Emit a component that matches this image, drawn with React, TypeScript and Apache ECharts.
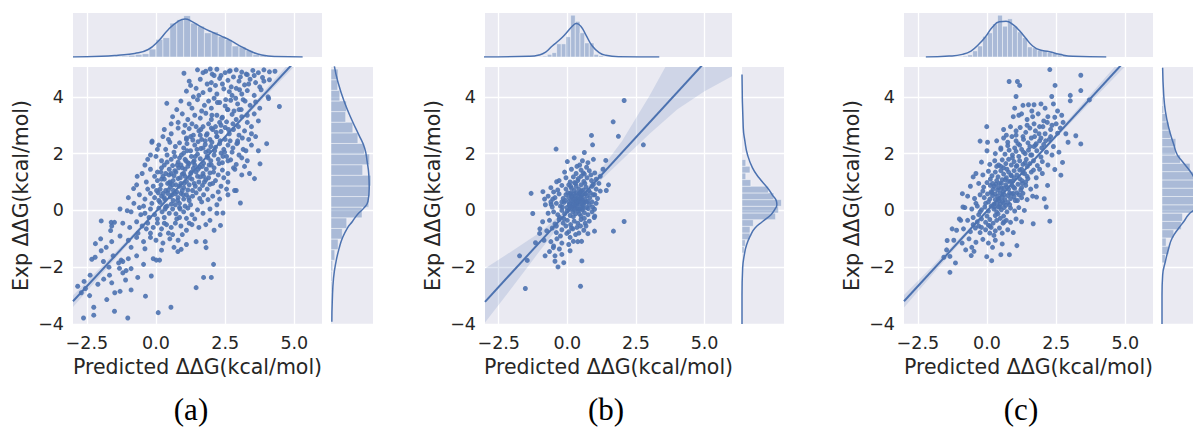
import React, { useEffect, useRef } from "react";
import * as echarts from "echarts";

// ---- shared axis settings ----
const X_TICKS = [-2.5, 0, 2.5, 5];
const Y_TICKS = [-4, -2, 0, 2, 4];
const X_MIN = -3;
const X_MAX = 6;
const Y_MIN = -4;
const Y_MAX = 5.05;
const X_TITLE = "Predicted \u0394\u0394G(kcal/mol)";
const Y_TITLE = "Exp \u0394\u0394G(kcal/mol)";
const PANEL_TAGS = ["(a)", "(b)", "(c)"];

// ---- panel (a) ----
const pointsA: number[][] = [
  [-2.62,-3.79],[-2.25,-3.41],[-2.25,-3.69],[-2.83,-2.67],[-2.55,-2.75],[-2.38,-2.28],[-2.32,-1.72],[-2.19,-1.17],[-1.98,-1.42],[-1.98,-0.37],
  [-1.62,-0.42],[-1.5,-0.42],[-1.64,-0.71],[-1.89,-2.42],[-1.68,-2.28],[-1.49,-2.9],[-1.78,-3.14],[-1.5,-3.55],[-1.02,-3.79],[-0.38,-3.02],
  [0.08,-3.6],[0.54,-3.41],[1.45,-2.72],[1.72,-2.36],[2.0,-2.36],[2.08,-1.9],[-0.66,-2.36],[-0.17,-2.31],[-1.32,-2.04],[-1.26,-1.75],
  [-1.2,-1.8],[-1.08,-2.12],[-0.68,1.2],[-0.81,0.77],[-1.04,-0.01],[-0.14,2.44],[0.39,3.77],[1.01,4.83],[1.96,4.98],[2.03,4.8],
  [2.68,4.92],[3.26,4.8],[4.1,4.88],[4.46,3.66],[4.07,3.94],[4.0,2.35],[3.76,1.64],[3.56,1.12],[3.38,1.3],[3.05,0.26],
  [2.9,0.7],[2.84,0.7],[2.33,-0.53],[2.42,-0.09],[1.81,-1.31],[1.78,-1.1],[1.45,-1.1],[0.91,-1.37],[0.79,-1.45],[0.13,-1.75],[0.01,-1.75],
  [1.5,4.95],[1.8,4.9],[2.2,4.97],[2.5,4.85],[2.9,4.95],[3.1,4.87],[3.5,4.93],[3.7,4.85],[3.9,4.95],[4.3,4.9],[2.35,4.75],[3.3,4.78],
  [1.2,4.55],[1.6,4.62],[2.0,4.5],[2.3,4.65],[2.6,4.58],[2.8,4.7],[3.0,4.55],[3.4,4.62],[3.6,4.5],[3.85,4.68],[4.1,4.6],[2.15,4.4],[3.2,4.42],
  [1.1,4.2],[1.45,4.3],[1.7,4.15],[1.95,4.25],[2.2,4.1],[2.45,4.28],[2.65,4.18],[2.9,4.3],[3.1,4.1],[3.3,4.22],[3.55,4.05],[3.8,4.25],[2.75,4.05],[1.35,4.0],[4.05,4.0],
  [0.9,3.85],[1.2,3.75],[1.5,3.9],[1.75,3.7],[1.9,3.85],[2.1,3.95],[2.3,3.8],[2.5,3.68],[2.7,3.88],[2.95,3.75],[3.15,3.9],[3.4,3.7],[3.6,3.82],[2.6,3.55],[1.65,3.5],[2.0,3.6],[3.0,3.55],[3.75,3.6],
  [0.6,3.3],[0.95,3.4],[1.15,3.2],[1.4,3.35],[1.6,3.25],[1.8,3.42],[2.0,3.2],[2.2,3.35],[2.4,3.28],[2.55,3.12],[2.75,3.38],[2.9,3.2],[3.1,3.3],[3.3,3.1],[3.55,3.4],[1.3,3.05],[1.9,3.05],[2.35,3.0],[0.8,3.1],[3.7,3.15],
  [0.3,2.85],[0.55,2.7],[0.8,2.9],[1.0,2.75],[1.2,2.88],[1.35,2.65],[1.55,2.8],[1.7,2.95],[1.85,2.7],[2.05,2.85],[2.2,2.6],[2.35,2.78],[2.5,2.92],[2.65,2.7],[2.8,2.85],[3.0,2.65],[3.2,2.8],[3.45,2.7],[1.1,2.55],[1.65,2.5],[2.15,2.95],[2.95,2.45],[0.45,2.5],[3.35,2.5],
  [-0.15,2.4],[0.1,2.3],[0.35,2.15],[0.5,2.4],[0.7,2.25],[0.85,2.38],[1.0,2.2],[1.12,2.35],[1.25,2.1],[1.4,2.3],[1.52,2.42],[1.62,2.18],[1.78,2.32],[1.9,2.1],[2.02,2.4],[2.15,2.22],[2.3,2.35],[2.45,2.15],[2.6,2.3],[2.78,2.2],[2.95,2.38],[3.15,2.15],[3.45,2.3],[3.7,2.1],[1.33,2.48],[1.95,2.5],[2.5,2.5],
  [-0.3,1.8],[0.0,1.9],[0.2,1.75],[0.4,1.95],[0.55,1.8],[0.68,1.9],[0.8,1.7],[0.92,1.95],[1.05,1.8],[1.15,1.68],[1.28,1.9],[1.38,1.75],[1.5,1.98],[1.6,1.82],[1.72,1.66],[1.85,1.9],[1.98,1.75],[2.1,1.95],[2.25,1.8],[2.4,1.68],[2.55,1.9],[2.7,1.78],[2.9,1.62],[3.1,1.85],[3.3,1.75],[1.0,2.02],[1.8,2.05],[2.35,2.02],[0.3,1.6],
  [-0.5,1.3],[-0.2,1.45],[0.05,1.35],[0.2,1.5],[0.35,1.3],[0.48,1.45],[0.6,1.58],[0.72,1.35],[0.82,1.5],[0.95,1.28],[1.05,1.45],[1.15,1.55],[1.25,1.3],[1.35,1.48],[1.45,1.35],[1.58,1.52],[1.7,1.3],[1.82,1.45],[1.95,1.32],[2.1,1.5],[2.25,1.25],[2.4,1.42],[2.6,1.3],[2.85,1.45],[3.1,1.25],[0.9,1.6],[1.4,1.6],[2.0,1.6],[-0.05,1.2],
  [-0.7,0.9],[-0.35,1.0],[-0.1,0.85],[0.05,1.05],[0.18,0.9],[0.3,1.1],[0.42,0.95],[0.52,0.82],[0.62,1.05],[0.72,0.9],[0.8,1.12],[0.9,0.95],[1.0,0.8],[1.1,1.02],[1.2,0.9],[1.3,1.1],[1.42,0.85],[1.55,1.0],[1.68,0.88],[1.8,1.08],[1.95,0.92],[2.15,1.05],[2.35,0.85],[2.6,1.0],[0.25,1.2],[0.65,1.22],[1.05,1.2],[1.6,1.18],[0.45,0.72],[0.95,0.7],
  [-1.0,0.45],[-0.6,0.55],[-0.4,0.4],[-0.2,0.6],[-0.05,0.45],[0.08,0.62],[0.2,0.5],[0.32,0.38],[0.42,0.6],[0.52,0.48],[0.62,0.35],[0.7,0.58],[0.8,0.45],[0.9,0.6],[1.0,0.4],[1.1,0.55],[1.2,0.35],[1.32,0.5],[1.45,0.62],[1.58,0.42],[1.72,0.55],[1.88,0.38],[2.05,0.5],[2.3,0.4],[2.6,0.55],[0.15,0.28],[0.55,0.22],[0.85,0.25],[1.25,0.2],[-0.15,0.25],
  [-1.3,0.05],[-0.9,-0.05],[-0.6,0.1],[-0.4,-0.1],[-0.2,0.05],[-0.05,-0.15],[0.1,0.08],[0.22,-0.05],[0.35,0.12],[0.48,-0.1],[0.6,0.05],[0.72,-0.12],[0.85,0.1],[1.0,-0.05],[1.15,0.08],[1.3,-0.15],[1.5,0.02],[1.7,-0.1],[1.95,0.05],[2.2,-0.1],[0.3,-0.25],[0.75,-0.3],[1.1,-0.28],[0.05,-0.3],
  [-1.6,-0.55],[-1.2,-0.45],[-0.95,-0.6],[-0.7,-0.4],[-0.5,-0.55],[-0.3,-0.45],[-0.1,-0.6],[0.05,-0.45],[0.2,-0.65],[0.38,-0.5],[0.55,-0.6],[0.7,-0.45],[0.9,-0.55],[1.1,-0.7],[1.3,-0.5],[1.55,-0.6],[1.8,-0.5],[2.1,-0.7],[0.45,-0.8],[0.95,-0.85],[-0.2,-0.8],
  [-2.0,-1.0],[-1.6,-1.1],[-1.3,-0.9],[-1.0,-1.05],[-0.7,-0.95],[-0.45,-1.1],[-0.2,-0.95],[0.0,-1.05],[0.25,-1.15],[0.5,-1.0],[0.8,-1.05],[1.1,-1.2],[-0.9,-1.3],[-0.4,-1.35],[0.2,-1.4],[0.65,-1.3],[-1.8,-1.3],
  [-2.2,-1.65],[-1.9,-1.8],[-1.55,-1.6],[-1.35,-1.85],[-1.0,-1.7],[-0.7,-1.6],[-0.45,-1.9],[-0.1,-1.7],[-1.7,-2.0],[-0.9,-2.05],[-1.2,-2.2],
  [-2.6,-2.5],[-2.1,-2.6],[-1.6,-2.55],[-1.1,-2.45],[-0.9,-2.8],[-2.7,-2.9],[-2.4,-3.0],[-1.3,-2.85],
  [0.35,0.7],[0.55,1.3],[0.75,0.65],[0.95,1.5],[1.15,0.72],[1.35,1.7],[1.5,1.2],[0.6,0.9],[0.85,1.85],[1.7,2.2],[1.25,2.6],[0.4,1.7],[0.15,0.75],[0.7,0.2],[1.05,0.15],
  [1.9,1.15],[2.2,2.6],[1.45,2.95],[0.5,1.0],[1.0,1.3],[1.2,1.65],[0.3,0.45],[0.85,0.85],[1.6,2.65],[2.0,2.9],[0.2,1.1],[1.1,2.5],[1.75,1.0],[0.65,2.05],[2.3,3.1],
  [0.1,0.35],[0.25,0.6],[0.4,0.15],[0.5,0.95],[0.58,0.55],[0.68,1.4],[0.78,0.35],[0.88,1.15],[0.98,0.55],[1.08,1.75],[1.18,0.45],[1.28,1.35],[1.38,0.95],[1.48,2.15],[1.58,0.75],
  [1.68,1.55],[1.78,2.45],[1.88,1.85],[1.98,2.25],[2.08,1.35],[2.18,2.75],[2.28,1.65],[2.38,3.25],[2.48,2.05],[2.58,3.55],[2.68,2.45],[2.78,3.05],[2.88,3.95],[2.98,2.95],[3.08,3.55],
  [0.02,0.7],[0.18,1.35],[0.33,0.05],[0.47,1.25],[0.63,0.7],[0.77,1.6],[0.87,0.05],[1.02,0.95],[1.12,2.1],[1.22,1.15],[1.32,0.7],[1.42,1.9],[1.52,1.45],[1.62,2.85],[1.72,1.2],
  [1.82,2.65],[1.92,1.6],[2.02,3.35],[2.12,2.1],[2.22,3.8],[2.32,2.45],[2.42,1.9],[2.52,3.9],[2.62,2.85],[2.72,4.35],[2.82,3.5],[2.92,2.35],[3.02,4.25],[3.12,2.55],[3.22,3.85],
  [-0.45,0.15],[-0.3,0.75],[-0.25,-0.25],[-0.55,-0.15],[-0.8,0.25],[-0.65,-0.8],[-0.35,-0.65],[0.15,-0.85],[0.3,-0.45],[0.6,-0.85],[0.85,-0.25],[1.2,-0.45],[1.4,-0.3],[1.65,0.3],[1.85,0.75],
  [2.05,0.95],[2.25,0.65],[2.45,1.15],[2.6,1.75],[2.75,2.05],[1.05,3.0],[1.3,3.6],[1.55,4.05],[1.85,4.45],[2.1,4.75],[2.4,4.45],[2.65,4.9],[3.05,4.7],[3.35,4.45],[3.55,4.75],
  [3.75,4.35],[3.9,4.55],[1.7,4.85],[1.25,4.4],[0.75,3.55],[0.55,3.05],[0.25,2.6],[0.05,2.15],[-0.2,1.95],[-0.4,1.6],[3.3,3.35],[3.45,2.95],[3.6,2.6],[3.25,2.1],[3.0,1.95],
  [2.8,1.5],[3.2,1.55],[2.55,0.75],[2.2,0.2],[1.95,-0.35],
];
const regLineA = [[-3, -3.2], [6, 6.28]];
const bandXA = [-3, -2, -1, 0, 1, 2, 3, 4, 5, 6];
const bandLowA = [-3.4, -2.29, -1.18, -0.09, 0.97, 2.02, 3.04, 4.06, 5.07, 6.08];
const bandHighA = [-3.0, -2.01, -1.0, 0.01, 1.05, 2.12, 3.2, 4.3, 5.39, 6.48];
const topHistStartA = -2.0;
const topHistWidthA = 0.25;
const topHistA = [0.01,0.01,0.015,0.02,0.04,0.06,0.075,0.18,0.4,0.44,0.77,0.85,0.94,0.77,0.7,0.55,0.57,0.47,0.4,0.25,0.23,0.15,0.06,0.03,0.015,0.01];
const rightHistStartA = -4.0;
const rightHistWidthA = 0.374;
const rightHistA = [0.01,0.01,0.015,0.02,0.025,0.04,0.09,0.17,0.27,0.375,0.74,0.9,0.92,0.95,0.755,0.92,0.8,0.64,0.52,0.35,0.37,0.21,0.16,0.17];
const kdeTopA = [[-3.0,0.002],[-1.97,0.015],[-1.37,0.04],[-0.77,0.08],[-0.28,0.17],[0.08,0.36],[0.44,0.62],[0.8,0.81],[1.05,0.865],[1.29,0.81],[1.65,0.68],[2.01,0.57],[2.38,0.47],[2.74,0.36],[3.1,0.23],[3.46,0.12],[3.82,0.045],[4.31,0.01],[5.3,0.0]];
const kdeRightA = [[0.08,5.08],[0.16,4.55],[0.31,3.85],[0.51,3.14],[0.66,2.67],[0.8,2.2],[0.86,1.73],[0.9,1.26],[0.91,0.79],[0.88,0.32],[0.78,0.08],[0.625,-0.15],[0.51,-0.39],[0.39,-0.62],[0.27,-0.98],[0.195,-1.33],[0.12,-1.8],[0.06,-2.39],[0.03,-3.21],[0.02,-3.92]];

// ---- panel (b) ----
const pointsB: number[][] = [
  [2.07,3.87],[1.67,3.12],[1.86,2.61],[2.77,2.31],[0.88,2.64],[0.92,2.31],[-0.41,2.16],[0.62,2.04],[1.4,1.76],[-1.32,0.6],
  [-0.89,0.66],[-0.83,0.4],[-1.26,-0.11],[-0.53,0.4],[-0.59,0.21],[1.5,0.9],[1.42,0.7],[2.07,-0.39],[1.68,-0.73],[0.99,-0.73],
  [-1.74,-1.6],[-1.46,-1.76],[-1.53,-2.75],[-0.81,-1.6],[-0.45,-1.79],[-0.34,-1.99],[-0.13,-1.84],[0.53,-1.78],[0.48,-2.67],[-1.16,-1.14],
  [-1.01,-0.81],[-0.51,-1.31],[-0.29,-1.36],[0.22,-1.09],[0.52,-1.09],[-0.02,-0.81],[0.98,-0.25],[0.99,0.04],[-0.39,1.01],
  [0.0,1.72],[0.25,1.85],[0.45,1.6],[0.55,1.75],[0.75,1.68],[0.95,1.8],[0.35,1.55],
  [-0.1,1.35],[0.15,1.45],[0.32,1.3],[0.5,1.42],[0.62,1.28],[0.8,1.4],[1.0,1.32],[1.3,1.45],[0.7,1.52],
  [-0.3,1.05],[-0.05,1.15],[0.1,1.0],[0.22,1.18],[0.38,1.05],[0.5,1.2],[0.6,1.02],[0.72,1.15],[0.88,1.05],[1.05,1.1],[0.3,0.95],[0.95,0.92],
  [-0.6,0.8],[-0.35,0.72],[-0.2,0.88],[-0.05,0.75],[0.05,0.9],[0.15,0.78],[0.25,0.7],[0.32,0.85],[0.42,0.75],[0.5,0.9],[0.58,0.72],[0.68,0.82],[0.78,0.7],[0.9,0.85],[1.05,0.75],[1.2,0.68],[0.45,0.62],[0.12,0.62],
  [-0.7,0.5],[-0.45,0.45],[-0.3,0.58],[-0.15,0.42],[-0.05,0.55],[0.05,0.45],[0.12,0.58],[0.2,0.4],[0.28,0.52],[0.35,0.42],[0.42,0.58],[0.5,0.45],[0.56,0.55],[0.64,0.4],[0.72,0.52],[0.82,0.45],[0.95,0.55],[1.1,0.42],[0.3,0.33],[0.6,0.3],[-0.2,0.3],
  [-0.8,0.2],[-0.55,0.12],[-0.4,0.25],[-0.25,0.15],[-0.12,0.28],[-0.02,0.1],[0.08,0.22],[0.16,0.12],[0.22,0.28],[0.3,0.18],[0.38,0.05],[0.45,0.22],[0.52,0.12],[0.6,0.25],[0.7,0.1],[0.8,0.2],[0.92,0.12],[1.05,0.25],[0.15,0.35],[0.48,0.35],[0.75,0.32],
  [-0.7,-0.1],[-0.5,-0.05],[-0.35,-0.15],[-0.2,0.0],[-0.1,-0.12],[0.0,-0.02],[0.1,-0.18],[0.2,-0.05],[0.3,-0.12],[0.4,-0.02],[0.5,-0.2],[0.62,-0.08],[0.75,-0.15],[0.9,-0.05],[1.0,-0.2],[0.25,0.02],[0.55,0.02],
  [-0.9,-0.4],[-0.65,-0.35],[-0.45,-0.48],[-0.3,-0.32],[-0.15,-0.45],[0.0,-0.35],[0.12,-0.5],[0.25,-0.38],[0.38,-0.45],[0.5,-0.32],[0.65,-0.45],[0.8,-0.38],[-0.05,-0.55],[0.35,-0.6],
  [-1.0,-0.65],[-0.75,-0.72],[-0.55,-0.62],[-0.4,-0.78],[-0.2,-0.68],[0.05,-0.75],[0.2,-0.65],[0.42,-0.8],[0.6,-0.7],[0.75,-0.82],[-0.25,-0.9],[0.1,-0.95],
  [-0.85,-1.05],[-0.6,-1.1],[-0.38,-1.0],[-0.2,-1.15],[0.05,-1.2],[0.38,-1.1],[-0.5,-1.25],
  [-0.65,-1.45],[-0.2,-1.55],[0.1,-1.42],[-0.45,-1.6],
  [0.05,0.3],[0.18,0.5],[0.28,0.08],[0.33,0.62],[0.4,0.3],[0.46,0.05],[0.52,0.68],[0.58,0.18],[0.66,0.58],[0.7,0.3],[0.1,0.05],[0.22,-0.22],[0.36,0.25],[0.44,-0.12],[0.54,0.38],
  [0.62,-0.28],[0.76,0.06],[0.84,0.62],[0.02,0.62],[-0.08,0.35],[-0.18,0.12],[-0.28,-0.25],[-0.12,-0.3],[0.12,0.85],[0.26,0.98],[0.4,1.12],[0.64,0.95],[0.86,1.25],[1.15,0.95],[1.2,1.2],
  [0.15,-0.62],[0.48,-0.55],[-0.4,-0.55],[-0.6,0.3],[-0.5,0.65],[0.3,-0.85],[0.68,-0.55],[0.9,0.3],[1.0,0.55],[0.58,1.32],
  [0.2,0.2],[0.3,0.4],[0.42,0.48],[0.5,0.28],[0.15,0.48],[0.25,0.58],[0.35,0.15],[0.47,0.62],[0.57,0.08],[0.07,0.18],
];
const regLineB = [[-3, -3.22], [6, 6.26]];
const bandXB = [-3, -2, -1, 0, 0.3, 1, 2, 3, 4, 5, 6];
const bandLowB = [-3.95, -2.7, -1.42, -0.18, 0.16, 0.86, 1.78, 2.7, 3.55, 4.2, 4.72];
const bandHighB = [-2.05, -1.42, -0.78, 0.07, 0.37, 1.15, 2.45, 4.05, 5.8, 7.5, 9.2];
const topHistStartB = -0.9;
const topHistWidthB = 0.17;
const topHistB = [0.02,0.06,0.1,0.3,0.3,0.46,0.95,0.81,0.55,0.32,0.32,0.06,0.03];
const rightHistStartB = -1.5;
const rightHistWidthB = 0.235;
const rightHistB = [0.05,0.08,0.19,0.19,0.27,0.8,0.87,0.94,0.76,0.63,0.21,0.09,0.19,0.09];
const kdeTopB = [[-3.04,0.0],[-1.4,0.015],[-1.03,0.045],[-0.79,0.11],[-0.55,0.25],[-0.3,0.38],[-0.06,0.53],[0.18,0.7],[0.33,0.76],[0.49,0.7],[0.67,0.51],[0.91,0.25],[1.16,0.1],[1.4,0.04],[1.88,0.008],[3.35,0.0]];
const kdeRightB = [[0.0,4.79],[0.03,2.91],[0.07,2.43],[0.13,1.97],[0.25,1.5],[0.41,1.14],[0.61,0.79],[0.72,0.55],[0.82,0.32],[0.83,0.2],[0.8,0.08],[0.69,-0.15],[0.49,-0.39],[0.31,-0.62],[0.21,-0.86],[0.11,-1.21],[0.055,-1.57],[0.015,-2.04],[0.0,-2.98],[0.0,-4.0]];

// ---- panel (c) ----
const pointsC: number[][] = [
  [2.27,4.96],[3.39,4.76],[0.8,4.54],[1.1,4.54],[1.18,4.4],[2.46,4.4],[1.05,4.01],[2.34,4.01],[3.01,4.05],[3.39,4.22],
  [3.01,3.86],[3.7,3.89],[-0.01,2.95],[-0.25,2.44],[0.02,2.4],[3.39,2.34],[3.21,2.63],[2.93,2.4],[2.73,1.69],[2.67,1.24],
  [2.45,1.44],[2.27,-0.38],[1.67,-0.47],[-0.5,1.18],[-0.89,0.59],[-0.87,0.12],[-0.95,-0.35],[-1.26,-0.65],[-1.44,-1.06],[-1.46,-1.39],
  [-1.34,-1.62],[-1.56,-1.65],[-1.14,-1.85],[-1.34,-2.18],[-0.77,-1.39],[-0.57,-1.59],[-0.47,-1.44],[-0.01,-1.63],[0.17,-1.77],[0.5,-1.56],
  [0.81,-1.56],[1.08,-1.24],[1.79,0.47],[2.14,0.12],[2.07,0.41],[2.19,0.88],
  [1.0,3.6],[1.3,3.7],[1.5,3.72],[1.7,3.72],[1.95,3.75],[2.1,3.6],[2.4,3.75],[2.55,3.5],[1.15,3.35],
  [0.95,3.3],[1.25,3.4],[1.45,3.2],[1.65,3.3],[1.85,3.4],[2.05,3.15],[2.2,3.3],[2.45,3.28],[2.7,3.35],[1.7,3.05],[2.35,3.0],
  [0.6,2.85],[0.85,2.95],[1.05,2.8],[1.2,2.92],[1.4,2.75],[1.55,2.9],[1.75,2.8],[1.9,2.95],[2.1,2.7],[2.3,2.85],[2.55,2.72],[2.65,2.9],[1.3,2.6],[1.95,2.55],
  [0.35,2.45],[0.6,2.55],[0.75,2.4],[0.9,2.6],[1.05,2.45],[1.18,2.3],[1.32,2.5],[1.48,2.38],[1.6,2.55],[1.75,2.3],[1.9,2.45],[2.05,2.32],[2.25,2.5],[2.4,2.25],[0.5,2.2],[1.0,2.2],
  [0.0,2.1],[0.3,2.0],[0.5,2.15],[0.65,1.98],[0.8,2.12],[0.92,1.95],[1.05,2.08],[1.15,1.9],[1.25,2.15],[1.38,2.0],[1.5,2.12],[1.62,1.95],[1.8,2.1],[1.95,1.88],[2.15,2.05],[2.35,1.95],[1.7,2.25],[0.75,2.28],[2.6,2.05],
  [-0.2,1.7],[0.1,1.62],[0.28,1.75],[0.42,1.6],[0.55,1.78],[0.68,1.65],[0.78,1.8],[0.88,1.6],[0.98,1.72],[1.08,1.58],[1.18,1.75],[1.3,1.62],[1.42,1.8],[1.55,1.65],[1.68,1.75],[1.82,1.58],[2.0,1.72],[2.2,1.6],[0.6,1.5],[1.25,1.45],[1.9,1.45],
  [-0.4,1.3],[-0.15,1.25],[0.05,1.38],[0.18,1.22],[0.3,1.35],[0.4,1.18],[0.5,1.4],[0.6,1.28],[0.7,1.15],[0.78,1.35],[0.88,1.22],[0.98,1.4],[1.08,1.25],[1.18,1.12],[1.3,1.32],[1.45,1.2],[1.6,1.35],[1.78,1.15],[2.0,1.3],[0.35,1.05],[0.85,1.02],[1.4,1.0],
  [-0.6,0.85],[-0.3,0.95],[-0.12,0.82],[0.0,0.98],[0.12,0.88],[0.22,0.75],[0.32,0.92],[0.42,0.8],[0.52,0.95],[0.6,0.78],[0.68,0.9],[0.78,0.75],[0.9,0.88],[1.0,0.78],[1.12,0.92],[1.25,0.8],[1.4,0.88],[1.58,0.75],[1.78,0.85],[0.15,0.65],[0.48,0.62],[0.95,0.6],[1.3,0.6],
  [-0.7,0.5],[-0.45,0.42],[-0.25,0.55],[-0.1,0.45],[0.02,0.58],[0.1,0.4],[0.2,0.52],[0.3,0.38],[0.38,0.5],[0.45,0.35],[0.55,0.48],[0.65,0.38],[0.75,0.52],[0.85,0.42],[0.98,0.48],[1.1,0.35],[1.25,0.45],[1.45,0.38],[1.65,0.5],[0.6,0.25],[0.25,0.22],[-0.05,0.25],
  [-0.8,0.1],[-0.55,0.05],[-0.35,0.15],[-0.2,0.02],[-0.08,0.12],[0.05,-0.02],[0.15,0.15],[0.25,0.05],[0.35,-0.05],[0.42,0.12],[0.52,0.02],[0.62,0.1],[0.72,-0.05],[0.85,0.08],[1.0,-0.02],[1.15,0.1],[1.35,0.0],[0.3,-0.18],[0.6,-0.2],[0.0,-0.2],[-0.3,-0.15],
  [-1.0,-0.3],[-0.7,-0.35],[-0.5,-0.25],[-0.35,-0.4],[-0.2,-0.3],[-0.05,-0.42],[0.1,-0.32],[0.22,-0.45],[0.35,-0.35],[0.48,-0.28],[0.58,-0.45],[0.7,-0.35],[0.85,-0.42],[1.05,-0.3],[1.25,-0.4],[0.15,-0.6],[0.45,-0.62],
  [-1.1,-0.7],[-0.85,-0.65],[-0.6,-0.75],[-0.42,-0.62],[-0.25,-0.78],[-0.05,-0.68],[0.1,-0.8],[0.3,-0.72],[0.55,-0.8],[0.75,-0.68],[0.95,-0.78],[-0.3,-0.55],[0.05,-0.52],
  [-1.2,-1.05],[-0.9,-1.15],[-0.65,-1.0],[-0.4,-1.12],[-0.15,-1.02],[0.05,-1.15],[0.3,-1.05],[0.55,-1.18],[-0.55,-1.3],[0.2,-1.3],
  [0.05,0.3],[0.18,0.62],[0.28,0.12],[0.38,0.72],[0.48,0.22],[0.58,0.65],[0.68,0.18],[0.78,1.02],[0.88,0.58],[0.98,1.15],[1.08,0.62],[1.18,1.42],[1.28,0.95],[1.38,1.68],[1.48,1.12],
  [1.58,1.95],[1.68,1.42],[1.78,2.35],[0.1,-0.55],[0.2,0.95],[0.4,-0.12],[0.5,1.55],[0.62,-0.4],[0.72,1.45],[0.82,0.2],[0.92,1.85],[1.02,0.35],[1.12,2.35],[1.22,0.72],[1.32,2.05],
  [-0.15,0.68],[-0.25,-0.05],[-0.4,0.25],[-0.5,-0.5],[-0.2,-0.6],[0.25,-0.88],[0.45,0.95],[0.55,1.08],[0.35,1.55],[0.12,1.1],
  [0.3,0.58],[0.42,0.4],[0.52,0.78],[0.62,0.55],[0.72,0.82],[0.82,0.62],[0.92,1.02],[0.26,0.85],[0.36,0.25],[0.46,0.12],[0.56,0.32],[0.66,1.08],[0.76,0.28],[0.86,1.25],[0.96,0.82],
  [1.06,1.55],[1.16,0.55],[1.26,1.05],[1.36,1.3],[1.46,1.55],[1.55,2.25],[1.72,2.6],[1.88,2.7],[2.02,2.95],[2.18,3.1],[2.3,2.6],[2.12,2.45],[1.98,2.2],[1.62,3.5],[1.45,3.0],
  [2.5,3.05],[2.85,2.7],[2.75,3.1],[1.05,2.65],[0.7,2.65],
];
const regLineC = [[-3, -3.2], [6, 6.34]];
const bandXC = [-3, -2, -1, 0, 1, 2, 3, 4, 5, 6];
const bandLowC = [-3.42, -2.29, -1.17, -0.07, 1.0, 2.04, 3.06, 4.07, 5.08, 6.09];
const bandHighC = [-2.98, -1.99, -0.99, 0.03, 1.08, 2.16, 3.26, 4.37, 5.48, 6.59];
const topHistStartC = -1.24;
const topHistWidthC = 0.18;
const topHistC = [0.01,0.01,0.02,0.05,0.14,0.25,0.47,0.55,0.75,0.95,0.7,0.87,0.7,0.57,0.44,0.23,0.21,0.15,0.14,0.1,0.08,0.05,0.03,0.02];
const rightHistStartC = -1.846;
const rightHistWidthC = 0.292;
const rightHistC = [0.08,0.16,0.1,0.28,0.46,0.49,0.85,0.95,1.0,0.95,0.85,0.67,0.44,0.32,0.33,0.2,0.16,0.1,0.04,0.02];
const kdeTopC = [[-2.21,0.0],[-1.37,0.02],[-0.89,0.06],[-0.58,0.135],[-0.28,0.3],[-0.04,0.47],[0.2,0.68],[0.45,0.8],[0.69,0.81],[0.93,0.74],[1.17,0.6],[1.41,0.42],[1.65,0.25],[1.89,0.165],[2.26,0.12],[2.62,0.06],[3.1,0.015],[4.31,0.0]];
const kdeRightC = [[0.015,5.02],[0.04,4.08],[0.08,3.5],[0.16,2.91],[0.28,2.32],[0.36,1.97],[0.48,1.73],[0.67,1.38],[0.78,1.1],[0.86,0.75],[0.88,0.45],[0.8,0.1],[0.63,-0.15],[0.52,-0.39],[0.4,-0.62],[0.24,-0.98],[0.16,-1.33],[0.08,-1.8],[0.016,-2.27],[0.0,-2.98],[0.0,-4.0]];

// ---- styling ----
const FONT = "DejaVu Sans";
const INK = "#262626";
const BLUE = "#4C72B0";
const PANEL_BG = "#EAEAF2";
const HIST_FILL = "rgba(76,114,176,0.4)";
const HIST_EDGE = "rgba(255,255,255,0.55)";
const GRID_LINE = { show: true, lineStyle: { color: "#ffffff", width: 1.3 } };

// grid boxes in px: [left, top, width, height]
const PANELS = [
  {
    main: [73, 67, 249, 257], top: [73, 13, 249, 44], right: [331, 67, 42, 257], tag: [191, 409],
    points: pointsA, reg: regLineA, bandX: bandXA, bandLow: bandLowA, bandHigh: bandHighA,
    topStart: topHistStartA, topWidth: topHistWidthA, topHist: topHistA,
    rightStart: rightHistStartA, rightWidth: rightHistWidthA, rightHist: rightHistA,
    kdeTop: kdeTopA, kdeRight: kdeRightA,
  },
  {
    main: [485, 67, 247, 257], top: [485, 13, 247, 44], right: [742, 67, 42, 257], tag: [606, 409],
    points: pointsB, reg: regLineB, bandX: bandXB, bandLow: bandLowB, bandHigh: bandHighB,
    topStart: topHistStartB, topWidth: topHistWidthB, topHist: topHistB,
    rightStart: rightHistStartB, rightWidth: rightHistWidthB, rightHist: rightHistB,
    kdeTop: kdeTopB, kdeRight: kdeRightB,
  },
  {
    main: [904, 67, 249, 257], top: [904, 13, 249, 44], right: [1162, 67, 42, 257], tag: [1021, 409],
    points: pointsC, reg: regLineC, bandX: bandXC, bandLow: bandLowC, bandHigh: bandHighC,
    topStart: topHistStartC, topWidth: topHistWidthC, topHist: topHistC,
    rightStart: rightHistStartC, rightWidth: rightHistWidthC, rightHist: rightHistC,
    kdeTop: kdeTopC, kdeRight: kdeRightC,
  },
];

const fmtX = (v: number) => v.toFixed(1).replace("-", "\u2212");
const fmtY = (v: number) => String(Math.round(v)).replace("-", "\u2212");

function gridBox(b: number[]) {
  return {
    left: b[0], top: b[1], width: b[2], height: b[3],
    show: true, backgroundColor: PANEL_BG, borderWidth: 0,
    containLabel: false, outerBoundsMode: "none",
  };
}

function bins(start: number, width: number, heights: number[]) {
  return heights.map((h, i) => [start + i * width, start + (i + 1) * width, h]);
}

function buildOption() {
  const grid: any[] = [];
  const xAxis: any[] = [];
  const yAxis: any[] = [];
  const series: any[] = [];
  const graphic: any[] = [];

  PANELS.forEach((p, i) => {
    const g = i * 3;
    grid.push(gridBox(p.main), gridBox(p.top), gridBox(p.right));

    // joint (scatter) axes
    xAxis.push({
      type: "value", gridIndex: g, min: X_MIN, max: X_MAX,
      axisLine: { show: false },
      axisTick: { show: false, customValues: X_TICKS },
      axisLabel: { customValues: X_TICKS, formatter: fmtX, color: INK, fontSize: 17.5, fontFamily: FONT, margin: 10 },
      splitLine: GRID_LINE,
      name: X_TITLE, nameLocation: "middle", nameGap: 28,
      nameTextStyle: { color: INK, fontSize: 20.5, fontFamily: FONT },
    });
    yAxis.push({
      type: "value", gridIndex: g, min: Y_MIN, max: Y_MAX,
      axisLine: { show: false },
      axisTick: { show: false, customValues: Y_TICKS },
      axisLabel: { customValues: Y_TICKS, formatter: fmtY, color: INK, fontSize: 17.5, fontFamily: FONT, margin: 9 },
      splitLine: GRID_LINE,
      name: Y_TITLE, nameLocation: "middle", nameGap: 42,
      nameTextStyle: { color: INK, fontSize: 20.5, fontFamily: FONT },
    });

    // top marginal axes
    xAxis.push({
      type: "value", gridIndex: g + 1, min: X_MIN, max: X_MAX,
      axisLine: { show: false },
      axisTick: { show: false, customValues: X_TICKS },
      axisLabel: { show: false, customValues: X_TICKS },
      splitLine: GRID_LINE,
    });
    yAxis.push({ type: "value", gridIndex: g + 1, min: 0, max: 1, show: false });

    // right marginal axes
    xAxis.push({ type: "value", gridIndex: g + 2, min: 0, max: 1, show: false });
    yAxis.push({
      type: "value", gridIndex: g + 2, min: Y_MIN, max: Y_MAX,
      axisLine: { show: false },
      axisTick: { show: false, customValues: Y_TICKS },
      axisLabel: { show: false, customValues: Y_TICKS },
      splitLine: GRID_LINE,
    });

    // top histogram
    series.push({
      type: "custom", xAxisIndex: g + 1, yAxisIndex: g + 1, silent: true, z: 2,
      data: bins(p.topStart, p.topWidth, p.topHist),
      renderItem: (_params: any, api: any) => {
        const a = api.coord([api.value(0), api.value(2)]);
        const b = api.coord([api.value(1), 0]);
        return {
          type: "rect",
          shape: { x: a[0], y: a[1], width: b[0] - a[0], height: b[1] - a[1] },
          style: { fill: HIST_FILL, stroke: HIST_EDGE, lineWidth: 0.8 },
        };
      },
    });
    series.push({
      type: "line", xAxisIndex: g + 1, yAxisIndex: g + 1, data: p.kdeTop, smooth: true,
      symbol: "none", silent: true, z: 3, clip: true,
      lineStyle: { color: BLUE, width: 1.5 },
    });

    // right histogram
    series.push({
      type: "custom", xAxisIndex: g + 2, yAxisIndex: g + 2, silent: true, z: 2,
      data: bins(p.rightStart, p.rightWidth, p.rightHist),
      renderItem: (_params: any, api: any) => {
        const a = api.coord([api.value(2), api.value(1)]);
        const b = api.coord([0, api.value(0)]);
        return {
          type: "rect",
          shape: { x: b[0], y: a[1], width: a[0] - b[0], height: b[1] - a[1] },
          style: { fill: HIST_FILL, stroke: HIST_EDGE, lineWidth: 0.8 },
        };
      },
    });
    series.push({
      type: "line", xAxisIndex: g + 2, yAxisIndex: g + 2, data: p.kdeRight, smooth: true,
      symbol: "none", silent: true, z: 3, clip: true,
      lineStyle: { color: BLUE, width: 1.5 },
    });

    // scatter
    series.push({
      type: "scatter", xAxisIndex: g, yAxisIndex: g, data: p.points, silent: true, z: 2,
      symbolSize: 5, itemStyle: { color: BLUE, opacity: 0.9 },
    });

    // regression confidence band
    series.push({
      type: "custom", xAxisIndex: g, yAxisIndex: g, silent: true, z: 3, clip: true,
      data: [[0]],
      renderItem: (_params: any, api: any) => {
        const upper = p.bandX.map((x, k) => api.coord([x, p.bandHigh[k]]));
        const lower = p.bandX.map((x, k) => api.coord([x, p.bandLow[k]])).reverse();
        return {
          type: "polygon",
          shape: { points: upper.concat(lower) },
          style: { fill: "rgba(76,114,176,0.17)" },
        };
      },
    });

    // regression line
    series.push({
      type: "line", xAxisIndex: g, yAxisIndex: g, data: p.reg, symbol: "none", silent: true,
      z: 4, clip: true, lineStyle: { color: BLUE, width: 2 },
    });

    graphic.push({
      type: "text", x: p.tag[0], y: p.tag[1],
      style: {
        text: PANEL_TAGS[i], fill: "#000", font: "31px 'Liberation Serif'",
        textAlign: "center", textVerticalAlign: "middle",
      },
    });
  });

  return {
    animation: false,
    backgroundColor: "#ffffff",
    grid, xAxis, yAxis, series, graphic,
  };
}

export default function App() {
  const ref = useRef<HTMLDivElement>(null);
  useEffect(() => {
    if (!ref.current) return;
    const chart = echarts.init(ref.current, undefined, { renderer: "svg" });
    chart.setOption(buildOption() as any);
    return () => chart.dispose();
  }, []);
  return (
    <div
      ref={ref}
      style={{ position: "absolute", left: 0, top: 0, width: 1193, height: 443, background: "#fff" }}
    />
  );
}
